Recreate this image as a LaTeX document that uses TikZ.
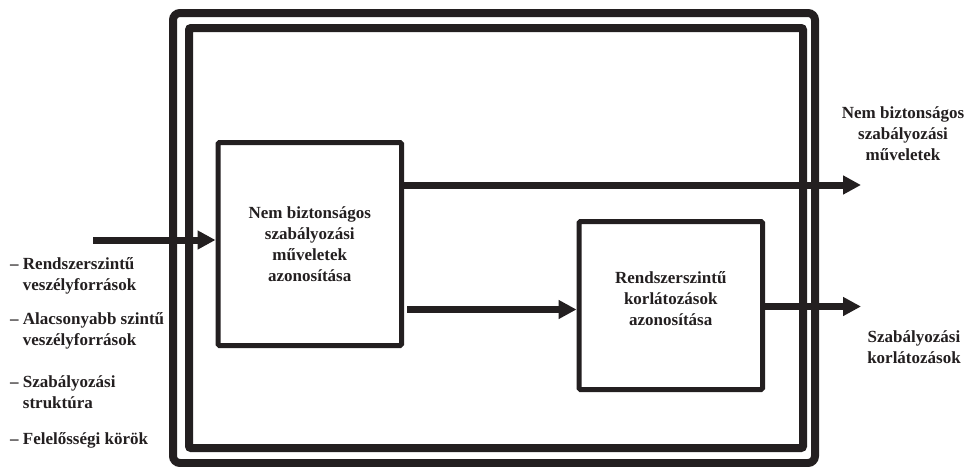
\documentclass[tikz,border=0pt]{standalone}
\usepackage{fontspec}
\setmainfont{Liberation Serif}
\usepackage{tikz}
\usetikzlibrary{arrows.meta}
\definecolor{ink}{HTML}{231F20}

\begin{document}
\begin{tikzpicture}[x=1pt,y=-1pt,
    frame/.style={draw=ink,line width=8pt},
    box/.style={draw=ink,line width=5pt,rounded corners=1.5pt,align=center,
      font=\fontsize{17}{21}\selectfont\bfseries,text=ink},
    flow/.style={draw=ink,line width=7pt,-{Triangle[length=18pt,width=18pt]}},
    lbl/.style={inner sep=0pt,font=\fontsize{17}{21}\selectfont\bfseries,text=ink}]
      \useasboundingbox (0,0) rectangle (971,466);

      % the two frames
      \draw[frame,rounded corners=7pt] (173,13) rectangle (815,463);
      \draw[frame,rounded corners=2pt] (189,28) rectangle (803,448);

      \node (lbox) at (309.75,244) [box,minimum width=183.5pt,minimum height=203pt]
        {Nem biztonságos\\szabályozási\\műveletek\\azonosítása};
      \node (rbox) at (670.75,305.5) [box,minimum width=183.5pt,minimum height=168pt]
        {Rendszerszintű\\korlátozások\\azonosítása\\[-7pt]};

      \coordinate (in) at (93,240);
      \coordinate (out1) at (861,185);
      \coordinate (mid) at (407,309.5);
      \coordinate (out2) at (861,306.5);

      \draw[flow] (in) -- (lbox.west |- in);
      \draw[flow] (lbox.east |- out1) -- (out1);
      \draw[flow] (mid) -- (rbox.west |- mid);
      \draw[flow] (rbox.east |- out2) -- (out2);

      % inputs
      \node (src1) at (10,276) [lbl,anchor=west,align=left] {– Rendszerszintű\\\phantom{– }veszélyforrások};
      \node (src2) at (10,331) [lbl,anchor=west,align=left] {– Alacsonyabb szintű\\\phantom{– }veszélyforrások};
      \node (src3) at (10,392.5) [lbl,anchor=west,align=left] {– Szabályozási\\\phantom{– }struktúra};
      \node (src4) at (10,440) [lbl,anchor=west,align=left] {– Felelősségi körök};

      % outputs
      \node (res1) at (903,134) [lbl,align=center] {Nem biztonságos\\szabályozási\\műveletek};
      \node (res2) at (914,347) [lbl,align=center] {Szabályozási\\korlátozások};
\end{tikzpicture}
\end{document}
